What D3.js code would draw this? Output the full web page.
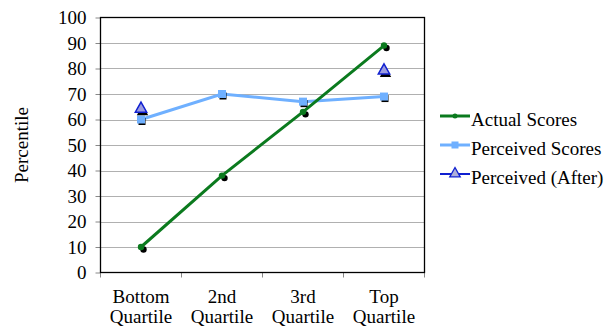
<!DOCTYPE html>
<html><head><meta charset="utf-8">
<script src="https://cdn.jsdelivr.net/npm/d3@7"></script>
<style>body{margin:0;background:#fff}svg{display:block}</style>
</head><body><svg id="c" width="615" height="327" font-family="Liberation Serif, serif"></svg>
<script>
const categories = [["Bottom","Quartile"],["2nd","Quartile"],["3rd","Quartile"],["Top","Quartile"]];
const actualScores = [10, 38, 63, 89];
const perceivedScores = [60, 70, 67, 69];
const perceivedAfter = [64.5, null, null, 79.5];
const yTicks = [0,10,20,30,40,50,60,70,80,90,100];
const seriesNames = ["Actual Scores","Perceived Scores","Perceived (After)"];

const FONT = "Liberation Serif, serif";
const FS = 19;
const svg = d3.select("#c");
const L=100.5, R=424.5, T=17.5, B=272.5;
const x = d3.scaleBand().domain(d3.range(categories.length)).range([L,R]);
const y = d3.scaleLinear().domain([0,100]).range([B,T]);

svg.append("g").selectAll("line").data(yTicks.filter(d=>d>0&&d<100)).join("line")
  .attr("x1",L).attr("x2",R).attr("y1",d=>Math.round(y(d))+0.5).attr("y2",d=>Math.round(y(d))+0.5)
  .attr("stroke","#b0b0b0").attr("stroke-width",1);

const ya = svg.append("g").attr("transform",`translate(${L},0)`)
  .call(d3.axisLeft(y).tickValues(yTicks).tickSize(5).tickPadding(9));
ya.attr("font-family",FONT).attr("font-size",FS);
ya.select(".domain").remove();
ya.selectAll("line").attr("stroke","#888");
ya.selectAll("text").attr("font-family",FONT).attr("font-size",FS).attr("fill","#000");

const bounds = d3.range(categories.length+1).map(i=>L + i*x.step());
svg.append("g").selectAll("line").data(bounds).join("line")
  .attr("x1",d=>d).attr("x2",d=>d).attr("y1",B).attr("y2",B+5).attr("stroke","#888");
const xl = svg.append("g").selectAll("text").data(categories).join("text")
  .attr("text-anchor","middle").attr("font-family",FONT).attr("font-size",FS);
xl.append("tspan").attr("x",(d,i)=>x(i)+x.bandwidth()/2).attr("y",303).text(d=>d[0]);
xl.append("tspan").attr("x",(d,i)=>x(i)+x.bandwidth()/2).attr("y",323).text(d=>d[1]);

svg.append("rect").attr("x",L).attr("y",T).attr("width",R-L).attr("height",B-T)
  .attr("fill","none").attr("stroke","#000").attr("stroke-width",1.3);

svg.append("text").attr("transform","translate(28,145) rotate(-90)").attr("text-anchor","middle")
  .attr("font-family",FONT).attr("font-size",FS).text("Percentile");

const cx = i => x(i)+x.bandwidth()/2;
const line = d3.line().defined(d=>d!=null).x((d,i)=>cx(i)).y(d=>y(d));

svg.append("path").datum(perceivedScores).attr("d",line).attr("fill","none")
  .attr("stroke","#6fb0ff").attr("stroke-width",3);
svg.append("path").datum(actualScores).attr("d",line).attr("fill","none")
  .attr("stroke","#0b7a1e").attr("stroke-width",3);

const g = svg.append("g");
perceivedScores.forEach((v,i)=>{
  g.append("rect").attr("x",cx(i)-2.5).attr("y",y(v)-1.5).attr("width",7).attr("height",7).attr("fill","#000");
  g.append("rect").attr("x",cx(i)-4).attr("y",y(v)-4).attr("width",8).attr("height",8).attr("fill","#6fb0ff");
});
actualScores.forEach((v,i)=>{
  g.append("circle").attr("cx",cx(i)+2.5).attr("cy",y(v)+2.5).attr("r",3.2).attr("fill","#000");
  g.append("circle").attr("cx",cx(i)).attr("cy",y(v)).attr("r",3.2).attr("fill","#0b7a1e");
});
const tri = (px,py,s)=>`M${px},${py-s}L${px+s*0.95},${py+s*0.7}L${px-s*0.95},${py+s*0.7}Z`;
perceivedAfter.forEach((v,i)=>{
  if(v==null) return;
  g.append("path").attr("d",tri(cx(i)+1.5,y(v)+3,6)).attr("fill","#000");
  g.append("path").attr("d",tri(cx(i),y(v),6)).attr("fill","#9c9ce0").attr("stroke","#1020d0").attr("stroke-width",1.5);
});

const lg = svg.append("g");
const ly = [116,145,174];
const lcol = ["#0b7a1e","#6fb0ff","#1020d0"];
seriesNames.forEach((n,i)=>{
  lg.append("line").attr("x1",440).attr("x2",470).attr("y1",ly[i]).attr("y2",ly[i])
    .attr("stroke",lcol[i]).attr("stroke-width",i==2?2:3);
  if(i==0) lg.append("circle").attr("cx",455).attr("cy",ly[i]).attr("r",2.5).attr("fill",lcol[0]);
  if(i==1) lg.append("rect").attr("x",451.5).attr("y",ly[i]-3.5).attr("width",7).attr("height",7).attr("fill",lcol[1]);
  if(i==2) lg.append("path").attr("d",tri(455,ly[i]-1,5.5)).attr("fill","#b0b0d8").attr("stroke","#1020d0").attr("stroke-width",1.3);
  lg.append("text").attr("x",471).attr("y",ly[i]+9.5).attr("font-family",FONT).attr("font-size",FS).text(n);
});
</script></body></html>
